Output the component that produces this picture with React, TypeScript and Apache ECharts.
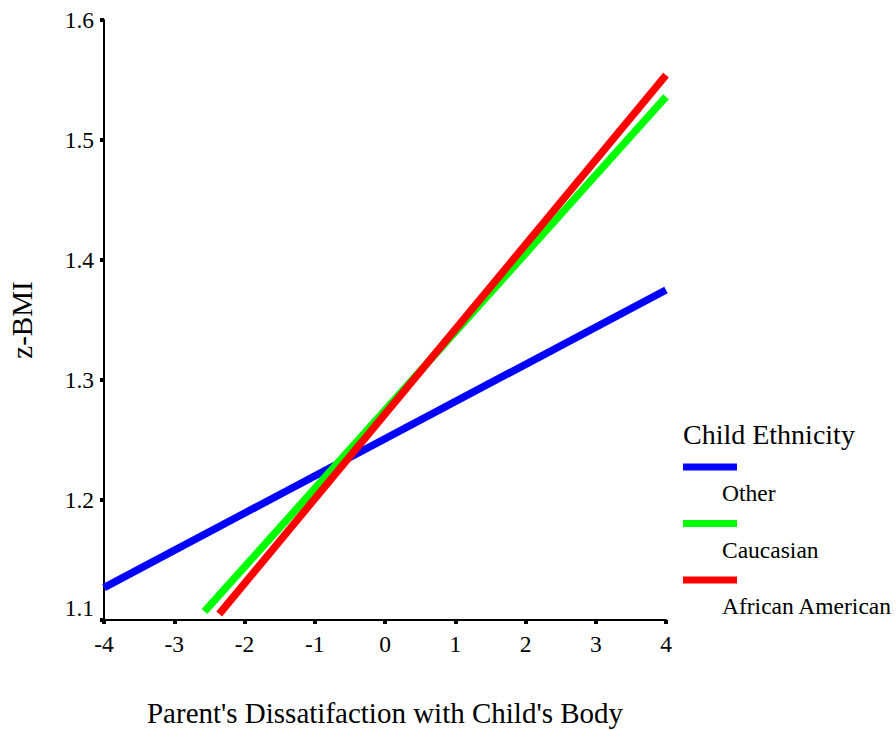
import React, { useEffect, useRef } from "react";
import * as echarts from "echarts";

const seriesNames = ["Other", "Caucasian", "African American"];
const seriesColors = ["#0000ff", "#00ff00", "#ff0000"];
const otherLine: [number, number][] = [[-4, 1.127], [4, 1.375]];
const caucasianLine: [number, number][] = [[-2.57, 1.107], [4, 1.536]];
const africanAmericanLine: [number, number][] = [[-2.36, 1.105], [4, 1.554]];
const xTitle = "Parent's Dissatifaction with Child's Body";
const yTitle = "z-BMI";
const legendTitle = "Child Ethnicity";

const FONT = "Liberation Serif";

export default function App() {
  const ref = useRef<HTMLDivElement>(null);
  useEffect(() => {
    if (!ref.current) return;
    const chart = echarts.init(ref.current, undefined, { renderer: "svg" });
    const lines = [otherLine, caucasianLine, africanAmericanLine];
    const legendItems: any[] = [];
    seriesNames.forEach((name, i) => {
      const y0 = 467 + i * 56.5;
      legendItems.push({
        type: "rect",
        shape: { x: 683, y: y0 - 3.5, width: 54, height: 7 },
        style: { fill: seriesColors[i] },
      });
      legendItems.push({
        type: "text",
        x: 722,
        y: y0 + 26,
        style: {
          text: name,
          fontFamily: FONT,
          fontSize: 23.5,
          fill: "#000",
          verticalAlign: "middle",
          align: "left",
        },
      });
    });
    chart.setOption({
      animation: false,
      backgroundColor: "#fff",
      grid: {
        left: 104,
        right: 230,
        top: 20,
        bottom: 110,
        containLabel: false,
        outerBoundsMode: "none",
      },
      xAxis: {
        type: "value",
        min: -4,
        max: 4,
        interval: 1,
        name: xTitle,
        nameLocation: "middle",
        nameGap: 78,
        nameTextStyle: { fontFamily: FONT, fontSize: 29, color: "#000" },
        splitLine: { show: false },
        axisLine: { show: true, onZero: false, lineStyle: { color: "#000", width: 2 } },
        axisTick: { show: true, length: 4, lineStyle: { color: "#000", width: 4 } },
        axisLabel: { fontFamily: FONT, fontSize: 23.5, color: "#000", margin: 12 },
      },
      yAxis: {
        type: "value",
        min: 1.1,
        max: 1.6,
        interval: 0.1,
        name: yTitle,
        nameLocation: "middle",
        nameGap: 68,
        nameRotate: 90,
        nameTextStyle: { fontFamily: FONT, fontSize: 29, color: "#000" },
        splitLine: { show: false },
        axisLine: { show: true, onZero: false, lineStyle: { color: "#000", width: 2 } },
        axisTick: { show: true, length: 4, lineStyle: { color: "#000", width: 4 } },
        axisLabel: {
          fontFamily: FONT,
          fontSize: 23.5,
          color: "#000",
          margin: 10,
          formatter: (v: number) => {
            const s = v.toFixed(1);
            return Math.abs(v - 1.1) < 1e-6 ? `{low|${s}}` : s;
          },
          rich: {
            low: { fontFamily: FONT, fontSize: 23.5, color: "#000", padding: [0, 0, 24, 0] },
          },
        },
      },
      series: lines.map((data, i) => ({
        type: "line",
        name: seriesNames[i],
        data,
        showSymbol: false,
        symbol: "none",
        lineStyle: { color: seriesColors[i], width: 7.5, cap: "butt" },
        z: 2 + i,
      })),
      graphic: [
        {
          type: "text",
          x: 683,
          y: 434,
          style: {
            text: legendTitle,
            fontFamily: FONT,
            fontSize: 28,
            fill: "#000",
            verticalAlign: "middle",
            align: "left",
          },
        },
        ...legendItems,
      ],
    });
    return () => chart.dispose();
  }, []);
  return <div ref={ref} style={{ width: 896, height: 730, position: "absolute", left: 0, top: 0 }} />;
}
